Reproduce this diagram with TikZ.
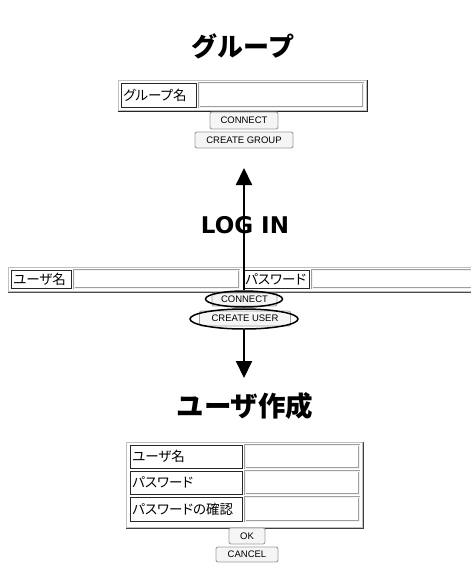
\documentclass[tikz,border=0pt]{standalone}
\usepackage{fontspec}
\newfontfamily\jp{Noto Sans CJK JP}
\newfontfamily\jpp{Noto Sans CJK JP}[RawFeature=+palt]
\newfontfamily\latb{DejaVu Sans}
\newfontfamily\btn{Liberation Sans}
\usetikzlibrary{arrows.meta,shapes.geometric}
\begin{document}
\begin{tikzpicture}[x=1pt,y=-1pt,
  ttl/.style={inner sep=0pt, font=\jp\bfseries\fontsize{26}{28}\selectfont},
  tbl/.style={draw=gray!50, line width=1.2pt, anchor=north west, inner sep=0pt},
  lab/.style={draw=black!85, line width=0.6pt, inner xsep=2pt, inner ysep=0pt, anchor=north west, align=left, font=\jpp\fontsize{13.5}{14}\selectfont},
  inp/.style={draw=gray!75, line width=0.7pt, double=gray!10, double distance=0.7pt, fill=white, anchor=north west, inner sep=0pt},
  btnbox/.style={draw=gray!75, fill=gray!8, line width=0.9pt, rounded corners=2pt, inner sep=0pt, text=black, font=\btn\fontsize{9.5}{10}\selectfont},
  ring/.style={ellipse, draw=black, line width=1.5pt, inner sep=0pt},
  arr/.style={line width=2pt, -{Triangle[width=16pt,length=17pt]}}
]
\path[use as bounding box, fill=white] (0,0) rectangle (471,563);

% ---------- group page ----------
\node[ttl] (tg) at (243,46) {グループ};
\node[tbl, minimum width=248pt, minimum height=30pt] (gt) at (118,80) {};
\draw[black!85, line width=1pt] (gt.south west) -- (gt.south east) -- (gt.north east);
\node[lab, text width=71pt, minimum height=24pt] (gl) at (121,83) {グループ名};
\node[inp, minimum width=164pt, minimum height=24pt] (gi) at (199,83) {};
\node[btnbox, minimum width=68pt, minimum height=17pt] (gc) at (244,120.5) {CONNECT};
\node[btnbox, minimum width=98pt, minimum height=16pt] (gcg) at (244,140) {CREATE GROUP};

% ---------- login page ----------
\node[inner sep=0pt, font=\latb\bfseries\fontsize{23}{25}\selectfont] (tl) at (245,225.5) {LOG IN};
\node[tbl, minimum width=472pt, minimum height=24pt] (lt) at (8,267) {};
\draw[black!70, line width=1pt] (lt.south west) -- (lt.south east);
\node[lab, text width=56pt, minimum height=18pt] (ll1) at (11,270) {ユーザ名};
\node[inp, minimum width=165pt, minimum height=18pt] (li1) at (74,270) {};
\node[lab, text width=62pt, minimum height=18pt] (ll2) at (243,270) {パスワード};
\node[inp, minimum width=165pt, minimum height=18pt] (li2) at (312,270) {};
\node[btnbox, minimum width=65pt, minimum height=13pt] (lc) at (244.5,299.5) {CONNECT};
\node[btnbox, minimum width=91pt, minimum height=15pt] (lcu) at (245,318.5) {CREATE USER};
\node[ring, minimum width=77pt, minimum height=16pt] (ec) at (244,299) {};
\node[ring, minimum width=108pt, minimum height=20pt] (ecu) at (244,319) {};
\coordinate (upTip) at (244,168);
\coordinate (downTip) at (244,378);
\draw[arr] (ec.north) -- (upTip);
\draw[arr] (ecu.south) -- (downTip);

% ---------- create user page ----------
\node[ttl, font=\jp\bfseries\fontsize{27.5}{29}\selectfont] (tu) at (245,406) {ユーザ作成};
\node[tbl, minimum width=236pt, minimum height=85pt] (ut) at (126,442) {};
\draw[black!75, line width=1pt] (ut.south west) -- (ut.south east) -- (ut.north east);
\node[lab, text width=108pt, minimum height=23pt] (ul1) at (130,445) {ユーザ名};
\node[inp, minimum width=114pt, minimum height=23pt] (ui1) at (245,445) {};
\node[lab, text width=108pt, minimum height=23pt] (ul2) at (130,471) {パスワード};
\node[inp, minimum width=114pt, minimum height=23pt] (ui2) at (245,471) {};
\node[lab, text width=108pt, minimum height=24pt] (ul3) at (130,497) {パスワードの確認};
\node[inp, minimum width=114pt, minimum height=24pt] (ui3) at (245,497) {};
\node[btnbox, minimum width=36pt, minimum height=16pt] (ok) at (247,536) {OK};
\node[btnbox, minimum width=62pt, minimum height=15pt] (cancel) at (247,554.5) {CANCEL};
\end{tikzpicture}
\end{document}
